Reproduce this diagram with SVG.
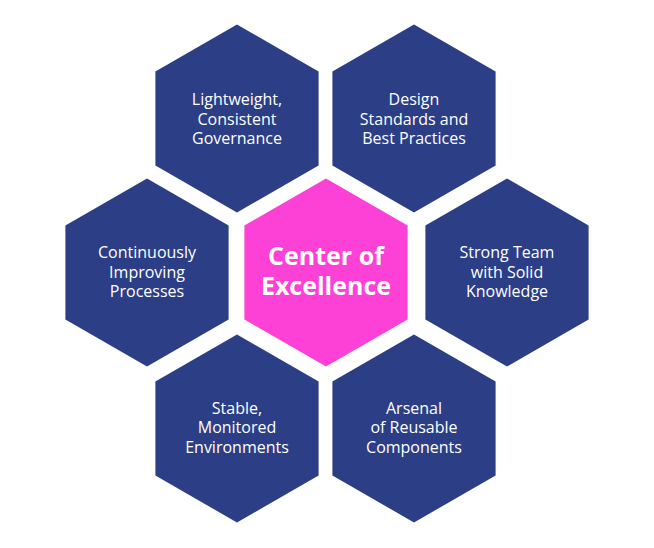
<svg xmlns="http://www.w3.org/2000/svg" xmlns:xlink="http://www.w3.org/1999/xlink" width="654" height="548" viewBox="0 0 654 548">
<style>
.navy{fill:#2B3E86}
.pink{fill:#FD40D6}
.t{font-family:"Open Sans","Noto Sans","Liberation Sans",sans-serif;font-size:16px;fill:#FFFFFF;text-anchor:middle}
.tc{font-family:"Open Sans","Noto Sans","Liberation Sans",sans-serif;font-size:25px;font-weight:bold;fill:#FFFFFF;text-anchor:middle}
</style>
<defs>
<polygon id="hex" points="0,-94 81.6,-47 81.6,47 0,94 -81.6,47 -81.6,-47"/>
</defs>
<rect width="654" height="548" fill="#FFFFFF"/>
<g id="connectors"/>
<g id="governance">
<use xlink:href="#hex" href="#hex" class="navy" transform="translate(237,118.5)"/>
<text class="t" x="237" y="105">Lightweight,</text>
<text class="t" x="237" y="125">Consistent</text>
<text class="t" x="237" y="144">Governance</text>
</g>
<g id="standards">
<use xlink:href="#hex" href="#hex" class="navy" transform="translate(414,118.5)"/>
<text class="t" x="414" y="105">Design</text>
<text class="t" x="414" y="125">Standards and</text>
<text class="t" x="414" y="144">Best Practices</text>
</g>
<g id="processes">
<use xlink:href="#hex" href="#hex" class="navy" transform="translate(147,272.5)"/>
<text class="t" x="147" y="258">Continuously</text>
<text class="t" x="147" y="278">Improving</text>
<text class="t" x="147" y="297">Processes</text>
</g>
<g id="center">
<use xlink:href="#hex" href="#hex" class="pink" transform="translate(326,272.5)"/>
<text class="tc" x="326" y="265">Center of</text>
<text class="tc" x="326" y="295">Excellence</text>
</g>
<g id="team">
<use xlink:href="#hex" href="#hex" class="navy" transform="translate(507,272.5)"/>
<text class="t" x="507" y="258">Strong Team</text>
<text class="t" x="507" y="278">with Solid</text>
<text class="t" x="507" y="297">Knowledge</text>
</g>
<g id="environments">
<use xlink:href="#hex" href="#hex" class="navy" transform="translate(237,428.5)"/>
<text class="t" x="237" y="414">Stable,</text>
<text class="t" x="237" y="433">Monitored</text>
<text class="t" x="237" y="453">Environments</text>
</g>
<g id="components">
<use xlink:href="#hex" href="#hex" class="navy" transform="translate(414,428.5)"/>
<text class="t" x="414" y="414">Arsenal</text>
<text class="t" x="414" y="433">of Reusable</text>
<text class="t" x="414" y="453">Components</text>
</g>
</svg>
